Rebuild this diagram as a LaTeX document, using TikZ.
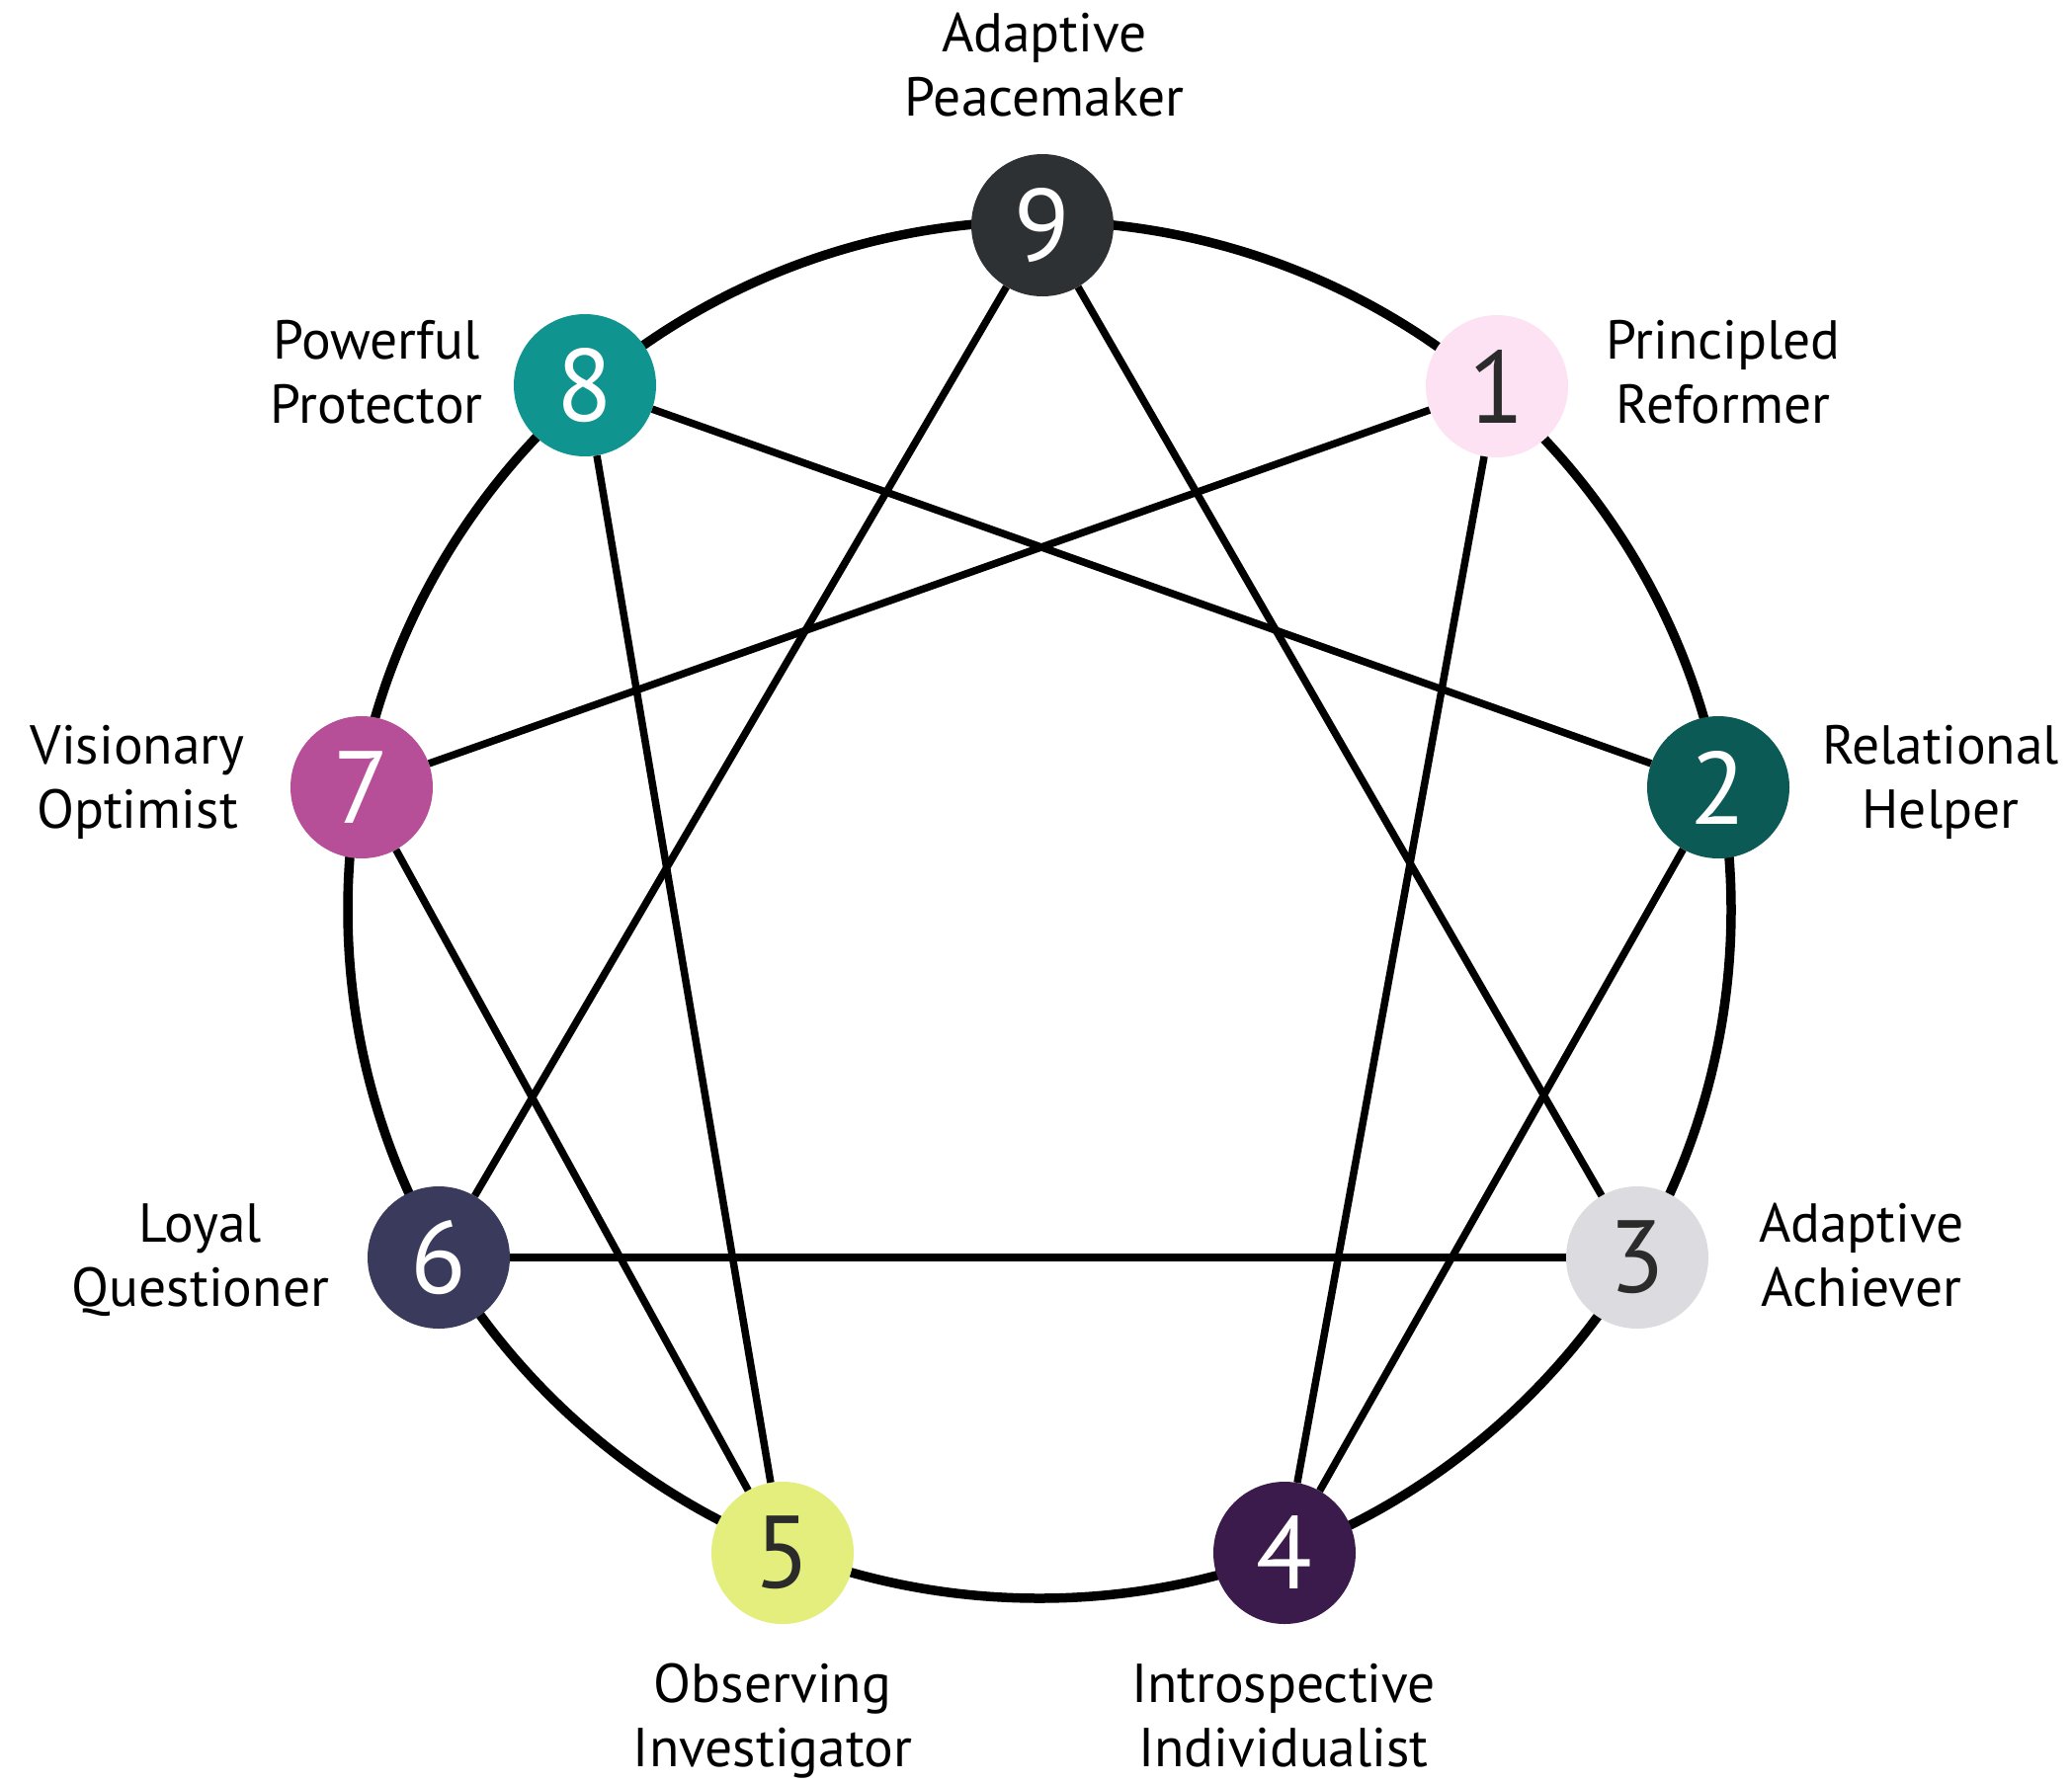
\documentclass[tikz,border=0pt]{standalone}
\usepackage{fontspec}
\setmainfont{PT Sans}
\definecolor{c9}{HTML}{2E3133}
\definecolor{c8}{HTML}{10948F}
\definecolor{c1}{HTML}{FCE2F3}
\definecolor{c2}{HTML}{0B5A55}
\definecolor{c3}{HTML}{DCDCE0}
\definecolor{c4}{HTML}{3B1B4C}
\definecolor{c5}{HTML}{E3EE7C}
\definecolor{c6}{HTML}{3A3A5C}
\definecolor{c7}{HTML}{B64F98}
\definecolor{dgt}{HTML}{2B2B2B}
\begin{document}
\begin{tikzpicture}[x=1pt,y=-1pt,
  num/.style={circle,minimum size=144pt,inner sep=0pt,font=\fontsize{104}{104}\selectfont},
  lbl/.style={align=center,anchor=base,inner sep=0pt,font=\fontsize{55.5}{65}\selectfont},
  ring/.style={line width=9.5pt},
  link/.style={line width=7.5pt}]
\useasboundingbox (0,0) rectangle (2097,1805);
\coordinate (ctr) at (1052,921);
\draw[ring] (ctr) ellipse [x radius=700, y radius=697];
% nodes
\node[num,fill=c9,text=white] (n9) at (1055,228) {9};
\node[num,fill=c8,text=white] (n8) at (592,390) {8};
\node[num,fill=c1,text=dgt] (n1) at (1515,391) {1};
\node[num,fill=c7,text=white] (n7) at (366,797) {7};
\node[num,fill=c2,text=white] (n2) at (1739,797) {2};
\node[num,fill=c6,text=white] (n6) at (444,1273) {6};
\node[num,fill=c3,text=dgt] (n3) at (1657,1273) {3};
\node[num,fill=c5,text=dgt] (n5) at (792,1572) {5};
\node[num,fill=c4,text=white] (n4) at (1300,1572) {4};
% connectors
\draw[link] (n1) -- (n4);
\draw[link] (n4) -- (n2);
\draw[link] (n2) -- (n8);
\draw[link] (n8) -- (n5);
\draw[link] (n5) -- (n7);
\draw[link] (n7) -- (n1);
\draw[link] (n9) -- (n3);
\draw[link] (n3) -- (n6);
\draw[link] (n6) -- (n9);
% labels (anchor = baseline of the last line)
\node[lbl] (l9) at (1057,117) {Adaptive\\Peacemaker};
\node[lbl] (l8) at (381,428) {Powerful\\Protector};
\node[lbl] (l1) at (1744,428) {Principled\\Reformer};
\node[lbl] (l7) at (139,838) {Visionary\\Optimist};
\node[lbl] (l2) at (1964,838) {Relational\\Helper};
\node[lbl] (l6) at (203,1322) {Loyal\\Questioner};
\node[lbl] (l3) at (1884,1322) {Adaptive\\Achiever};
\node[lbl] (l5) at (782,1788) {Observing\\Investigator};
\node[lbl] (l4) at (1299,1788) {Introspective\\Individualist};
\end{tikzpicture}
\end{document}
